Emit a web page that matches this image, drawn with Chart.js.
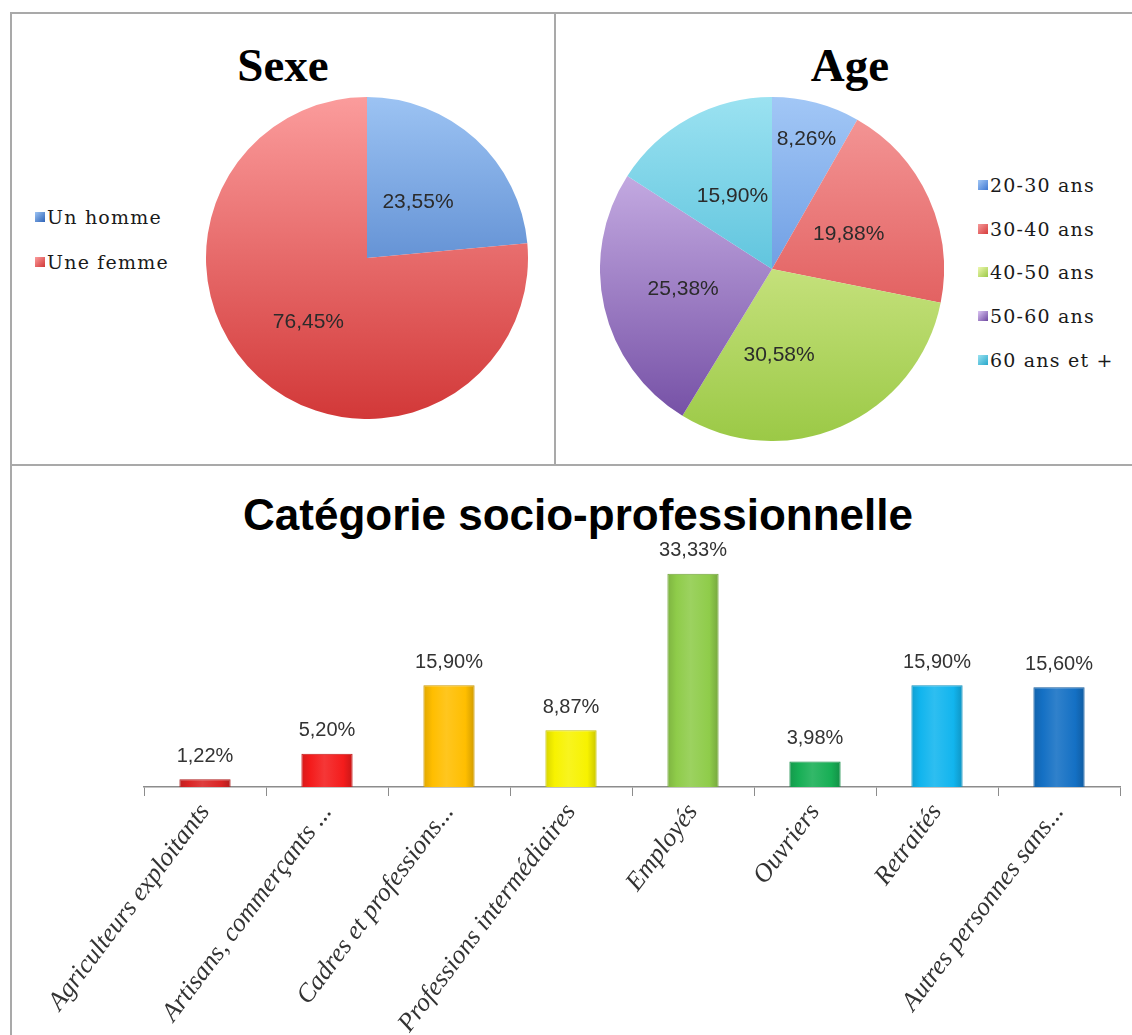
<!DOCTYPE html>
<html lang="fr">
<head>
<meta charset="utf-8">
<title>Profil des répondants</title>
<script src="https://cdn.jsdelivr.net/npm/chart.js@4.4.1/dist/chart.umd.min.js"></script>
<style>
  html, body { margin: 0; padding: 0; background: #fff; }
  body { width: 1132px; height: 1035px; position: relative; overflow: hidden; }
  .rule { position: absolute; background: #a9a9a9; }
  .title { position: absolute; text-align: center; line-height: 1; color: #000; white-space: nowrap; }
  .serif-title { font: bold 47px 'Liberation Serif', serif; }
  .sans-title { font: bold 44px 'Liberation Sans', Arial, sans-serif; }
  canvas { position: absolute; }
  .legend { position: absolute; font: 19px 'DejaVu Serif', serif; letter-spacing: 1.2px; color: #1a1a1a; }
  .legend div { display: flex; align-items: center; white-space: nowrap; }
  .legend i { display: inline-block; width: 10px; height: 10px; margin-right: 2px; }
</style>
</head>
<body>
<!-- frame lines -->
<div class="rule" style="left:10px;top:12px;width:1122px;height:2px"></div>
<div class="rule" style="left:10px;top:12px;width:2px;height:1023px"></div>
<div class="rule" style="left:554px;top:12px;width:2px;height:453px"></div>
<div class="rule" style="left:10px;top:464px;width:1122px;height:2px"></div>

<div class="title serif-title" style="left:12px;top:38px;width:542px">Sexe</div>
<div class="title serif-title" style="left:562px;top:38px;width:576px">Age</div>
<div class="title sans-title" style="left:20px;top:490px;width:1116px">Catégorie socio-professionnelle</div>

<canvas id="sexe" width="322" height="322" style="left:206px;top:97px"></canvas>
<canvas id="age" width="344" height="344" style="left:600px;top:97px"></canvas>
<canvas id="csp" width="1120" height="569" style="left:12px;top:466px"></canvas>

<div class="legend" id="sexeLegend" style="left:35px;top:194px"></div>
<div class="legend" id="ageLegend" style="left:978px;top:163px"></div>

<script>
// ---- data ----
const sexeLabels = ['Un homme', 'Une femme'];
const sexeValues = [23.55, 76.45];

const ageLabels = ['20-30 ans', '30-40 ans', '40-50 ans', '50-60 ans', '60 ans et +'];
const ageValues = [8.26, 19.88, 30.58, 25.38, 15.90];

const cspLabels = [
  'Agriculteurs exploitants',
  'Artisans, commerçants ...',
  'Cadres et professions...',
  'Professions intermédiaires',
  'Employés',
  'Ouvriers',
  'Retraités',
  'Autres personnes sans...',
];
const cspValues = [1.22, 5.20, 15.90, 8.87, 33.33, 3.98, 15.90, 15.60];

// ---- colours (light, dark) ----
const sexeColors = [['#9cc3f3', '#2f64b8'], ['#fb9c9c', '#d23838']];
const ageColors = [
  ['#a2c7f6', '#3f78d2'],
  ['#f59a9a', '#d63c3c'],
  ['#eef8b0', '#9bc946'],
  ['#dcc6f4', '#6e48a0'],
  ['#9be2f1', '#27a8cb'],
];
const cspColors = ['#d92424', '#f41c1c', '#ffbe00', '#f7f200', '#8fcc4a', '#17ae55', '#12b5ee', '#1470c4'];

const fmt = (v) => v.toFixed(2).replace('.', ',') + '%';

function shade(hex, amt) {
  const n = parseInt(hex.slice(1), 16);
  const ch = [(n >> 16) & 255, (n >> 8) & 255, n & 255].map((c) =>
    Math.round(amt < 0 ? c * (1 + amt) : c + (255 - c) * amt));
  return `rgb(${ch[0]},${ch[1]},${ch[2]})`;
}

/* vertical light-to-dark fill across the pie */
function pieFill(pairs) {
  return (ctx) => {
    const area = ctx.chart.chartArea;
    const [light, dark] = pairs[ctx.dataIndex];
    if (!area) return dark;
    const g = ctx.chart.ctx.createLinearGradient(0, area.top, 0, area.bottom);
    g.addColorStop(0, light);
    g.addColorStop(1, dark);
    return g;
  };
}

/* percentage labels inside the slices */
const sliceLabels = {
  id: 'sliceLabels',
  afterDatasetsDraw(chart, args, opts) {
    const { ctx } = chart;
    const values = chart.data.datasets[0].data;
    ctx.save();
    ctx.font = opts.font;
    ctx.fillStyle = opts.color;
    ctx.textAlign = 'center';
    ctx.textBaseline = 'middle';
    chart.getDatasetMeta(0).data.forEach((arc, i) => {
      const p = arc.getProps(['x', 'y', 'startAngle', 'endAngle', 'outerRadius'], true);
      const mid = (p.startAngle + p.endAngle) / 2 + (opts.turn[i] || 0);
      const r = p.outerRadius * opts.radius[i];
      ctx.fillText(fmt(values[i]), p.x + Math.cos(mid) * r, p.y + Math.sin(mid) * r);
    });
    ctx.restore();
  },
};

/* value labels above the bars */
const barLabels = {
  id: 'barLabels',
  afterDatasetsDraw(chart, args, opts) {
    const { ctx } = chart;
    const values = chart.data.datasets[0].data;
    ctx.save();
    ctx.font = opts.font;
    ctx.fillStyle = opts.color;
    ctx.textAlign = 'center';
    ctx.textBaseline = 'middle';
    chart.getDatasetMeta(0).data.forEach((bar, i) => {
      ctx.fillText(fmt(values[i]), bar.x, bar.y - opts.gap);
    });
    ctx.restore();
  },
};

function pieChart(id, labels, values, colors, radius, turn) {
  return new Chart(document.getElementById(id), {
    type: 'pie',
    data: {
      labels,
      datasets: [{ data: values, backgroundColor: pieFill(colors), borderWidth: 0, hoverOffset: 0 }],
    },
    options: {
      responsive: false,
      animation: false,
      events: [],
      layout: { padding: 0 },
      plugins: {
        legend: { display: false },
        tooltip: { enabled: false },
        sliceLabels: { font: "21px 'Liberation Sans', Arial, sans-serif", color: '#2b2b2b', radius, turn },
      },
    },
    plugins: [sliceLabels],
  });
}

function htmlLegend(el, labels, colors, rowHeight) {
  labels.forEach((text, i) => {
    const row = document.createElement('div');
    row.style.height = rowHeight + 'px';
    const sw = document.createElement('i');
    sw.style.background = `linear-gradient(135deg, ${colors[i][0]}, ${colors[i][1]})`;
    row.appendChild(sw);
    row.appendChild(document.createTextNode(text));
    el.appendChild(row);
  });
}

pieChart('sexe', sexeLabels, sexeValues, sexeColors, [0.47, 0.54], []);
// small angular nudge for the 40-50 label, as placed in the original
pieChart('age', ageLabels, ageValues, ageColors, [0.78, 0.49, 0.5, 0.53, 0.48], [0, 0, 0.33, 0, 0]);
htmlLegend(document.getElementById('sexeLegend'), sexeLabels, sexeColors, 45);
htmlLegend(document.getElementById('ageLegend'), ageLabels, ageColors, 43.75);

/* bars: darker edges, lighter middle */
function barFill(ctx) {
  const base = cspColors[ctx.dataIndex];
  const x = ctx.chart.scales.x;
  if (!x || x.width === undefined) return base;
  const cx = x.getPixelForValue(ctx.dataIndex);
  const half = (x.width / cspLabels.length) * 0.42 / 2;
  const g = ctx.chart.ctx.createLinearGradient(cx - half, 0, cx + half, 0);
  g.addColorStop(0, shade(base, -0.12));
  g.addColorStop(0.18, base);
  g.addColorStop(0.45, shade(base, 0.12));
  g.addColorStop(0.82, base);
  g.addColorStop(1, shade(base, -0.18));
  return g;
}

new Chart(document.getElementById('csp'), {
  type: 'bar',
  data: {
    labels: cspLabels,
    datasets: [{
      data: cspValues,
      backgroundColor: barFill,
      borderColor: cspColors.map((c) => shade(c, -0.2)),
      borderWidth: 1,
      barPercentage: 0.42,
      categoryPercentage: 1,
    }],
  },
  options: {
    responsive: false,
    animation: false,
    events: [],
    layout: { padding: { left: 132, right: 12, top: 97, bottom: 0 } },
    plugins: {
      legend: { display: false },
      tooltip: { enabled: false },
      barLabels: { font: "20px 'Liberation Sans', Arial, sans-serif", color: '#333', gap: 23 },
    },
    scales: {
      x: {
        offset: true,
        grid: { offset: true, drawOnChartArea: false, drawTicks: true, tickLength: 9, color: '#8c8c8c' },
        border: { color: '#8c8c8c', width: 1.5 },
        ticks: {
          autoSkip: false,
          minRotation: 53,
          maxRotation: 53,
          padding: 2,
          color: '#333',
          font: { family: "'Liberation Serif', serif", style: 'italic', size: 26 },
        },
        afterFit: (scale) => { scale.height = 248; },
      },
      y: { display: false, min: 0, max: 35 },
    },
  },
  plugins: [barLabels],
});
</script>
</body>
</html>
